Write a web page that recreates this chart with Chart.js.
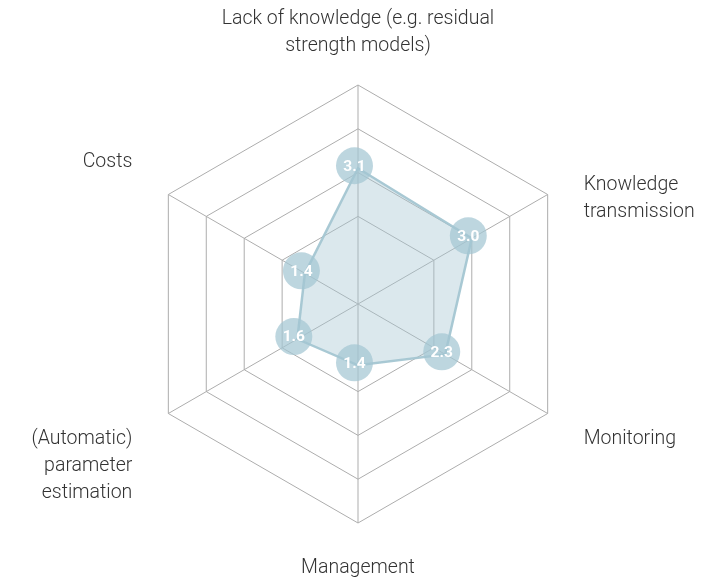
<!DOCTYPE html>
<html>
<head>
<meta charset="utf-8">
<script src="https://cdn.jsdelivr.net/npm/chart.js@4.4.0/dist/chart.umd.min.js"></script>
<style>
  html, body { margin: 0; padding: 0; background: #fff; }
  #wrap { width: 702px; height: 581px; }
</style>
</head>
<body>
<div id="wrap"><canvas id="radarChart" width="702" height="581"></canvas></div>
<script>
// axis categories (one array of lines per axis, clockwise from top)
const categories = [
  ["Lack of knowledge (e.g. residual", "strength models)"],
  ["Knowledge", "transmission"],
  ["Monitoring"],
  ["Management"],
  ["(Automatic)", "parameter", "estimation"],
  ["Costs"],
];
const scores = [3.1, 3.0, 2.3, 1.4, 1.6, 1.4];
const scaleMin = 0;
const scaleMax = 5;
const hiddenRings = [1];

// draws the axis names next to the outer vertices
const axisLabelPlugin = {
  id: "axisLabels",
  afterDraw(chart, args, opts) {
    const scale = chart.scales.r;
    const ctx = chart.ctx;
    ctx.save();
    ctx.font = opts.font;
    ctx.fillStyle = opts.color;
    ctx.textBaseline = "alphabetic";
    categories.forEach((lines, i) => {
      const p = scale.getPointPosition(i, scale.drawingArea);
      let x = p.x;
      let align = "center";
      const dx = p.x - scale.xCenter;
      if (dx > 1) {
        x += opts.sideGap;
        align = "left";
      } else if (dx < -1) {
        x -= opts.sideGap;
        align = "right";
      }
      ctx.textAlign = align;
      lines.forEach((line, j) => {
        ctx.fillText(line, x, p.y + opts.baselineOffsets[i] + j * opts.lineHeight);
      });
    });
    ctx.restore();
  },
};

// round value bubbles on each point
const bubblePlugin = {
  id: "bubbles",
  afterDatasetsDraw(chart, args, opts) {
    const meta = chart.getDatasetMeta(0);
    const ctx = chart.ctx;
    ctx.save();
    meta.data.forEach((pt, i) => {
      const x = pt.x + opts.shiftX;
      const y = pt.y + opts.shiftY;
      ctx.beginPath();
      ctx.arc(x, y, opts.radius, 0, Math.PI * 2);
      ctx.fillStyle = opts.color;
      ctx.fill();
      ctx.fillStyle = "#ffffff";
      ctx.font = opts.font;
      ctx.textAlign = "center";
      ctx.textBaseline = "middle";
      ctx.fillText(scores[i].toFixed(1), x, y + 1);
    });
    ctx.restore();
  },
};

const ctx = document.getElementById("radarChart").getContext("2d");
new Chart(ctx, {
  type: "radar",
  data: {
    labels: categories,
    datasets: [
      {
        data: scores,
        backgroundColor: "rgba(164, 198, 210, 0.4)",
        borderColor: "rgba(164, 198, 210, 0.95)",
        borderWidth: 2.5,
        pointRadius: 0,
        pointHoverRadius: 0,
        fill: true,
      },
    ],
  },
  plugins: [axisLabelPlugin, bubblePlugin],
  options: {
    responsive: false,
    animation: false,
    layout: {
      padding: { left: 139, right: 125, top: 85, bottom: 58 },
    },
    scales: {
      r: {
        min: scaleMin,
        max: scaleMax,
        ticks: { stepSize: 1, display: false },
        pointLabels: { display: false },
        grid: {
          color: (c) =>
            hiddenRings.includes(c.tick && c.tick.value) ? "rgba(0,0,0,0)" : "#adadad",
          lineWidth: 1,
        },
        angleLines: { color: "#adadad", lineWidth: 1 },
      },
    },
    plugins: {
      legend: { display: false },
      tooltip: { enabled: false },
      axisLabels: {
        font: "300 19.5px Roboto",
        color: "#333333",
        lineHeight: 27.4,
        sideGap: 36,
        baselineOffsets: [-61, -5, 30, 50, 30, -27.5],
      },
      bubbles: {
        radius: 18.5,
        shiftX: -3.5,
        shiftY: -2.5,
        color: "rgba(164, 198, 210, 0.72)",
        font: "bold 15.5px Roboto",
      },
    },
  },
});
</script>
</body>
</html>
